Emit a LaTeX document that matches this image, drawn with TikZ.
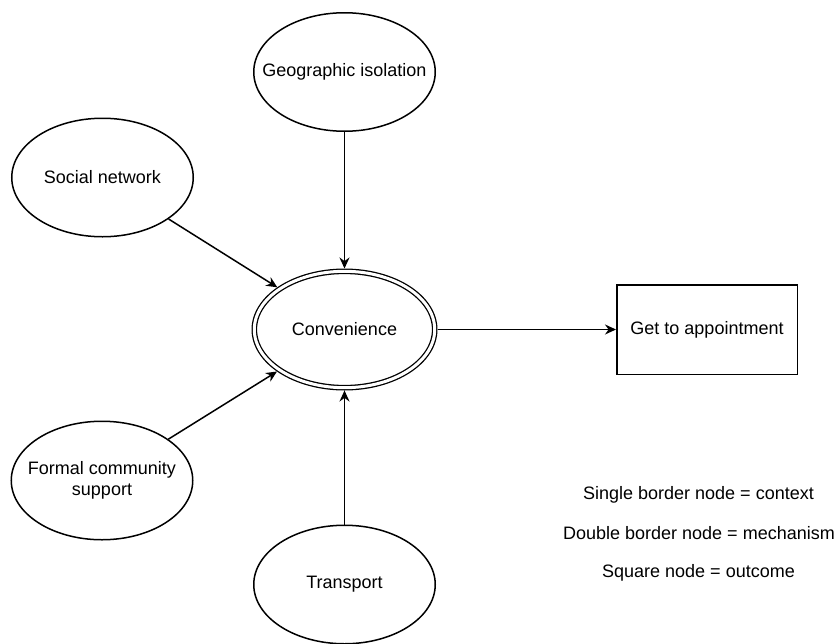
\documentclass[tikz,border=0pt]{standalone}
\usepackage{fontspec}
\setmainfont{Liberation Sans}
\usetikzlibrary{shapes.geometric,arrows.meta}
\begin{document}
\begin{tikzpicture}[x=1pt,y=-1pt,
  txt/.style={font=\fontsize{18}{21.6}\selectfont},
  ctx/.style={txt,ellipse,draw,line width=1.5pt,minimum width=181.5pt,minimum height=118.5pt,inner sep=0pt},
  mech/.style={txt,ellipse,draw,double,double distance=3pt,line width=1.3pt,minimum width=180.4pt,minimum height=116.4pt,inner sep=0pt,outer sep=2.8pt},
  outc/.style={txt,rectangle,draw,line width=1.5pt,minimum width=180.5pt,minimum height=89.5pt,inner sep=0pt},
  legend/.style={txt,inner sep=0pt},
  arr/.style={line width=1.5pt,-{Stealth[length=11pt,width=10pt]}}
]
\useasboundingbox (0,0) rectangle (838,643);
\node[ctx] (geo) at (344.5,72) {\makebox[0pt]{Geographic isolation}};
\node[ctx] (soc) at (102.5,177.5) {\makebox[0pt]{Social network}};
\node[mech] (conv) at (344.5,329.5) {\makebox[0pt]{Convenience}};
\node[outc] (out) at (707,329.5) {\makebox[0pt]{Get to appointment}};
\node[ctx] (form) at (102,480.5) {\makebox[0pt]{\begin{tabular}{@{}c@{}}Formal community\\support\end{tabular}}};
\node[ctx] (trans) at (344.5,584.5) {\makebox[0pt]{Transport}};
\node[legend] (l1) at (698.5,495) {Single border node = context};
\node[legend] (l2) at (699,533) {Double border node = mechanism};
\node[legend] (l3) at (698.5,573) {Square node = outcome};
\draw[arr] (geo) -- (conv);
\draw[arr] (soc) -- (conv);
\draw[arr] (form) -- (conv);
\draw[arr] (trans) -- (conv);
\draw[arr] (conv) -- (out);
\end{tikzpicture}
\end{document}
